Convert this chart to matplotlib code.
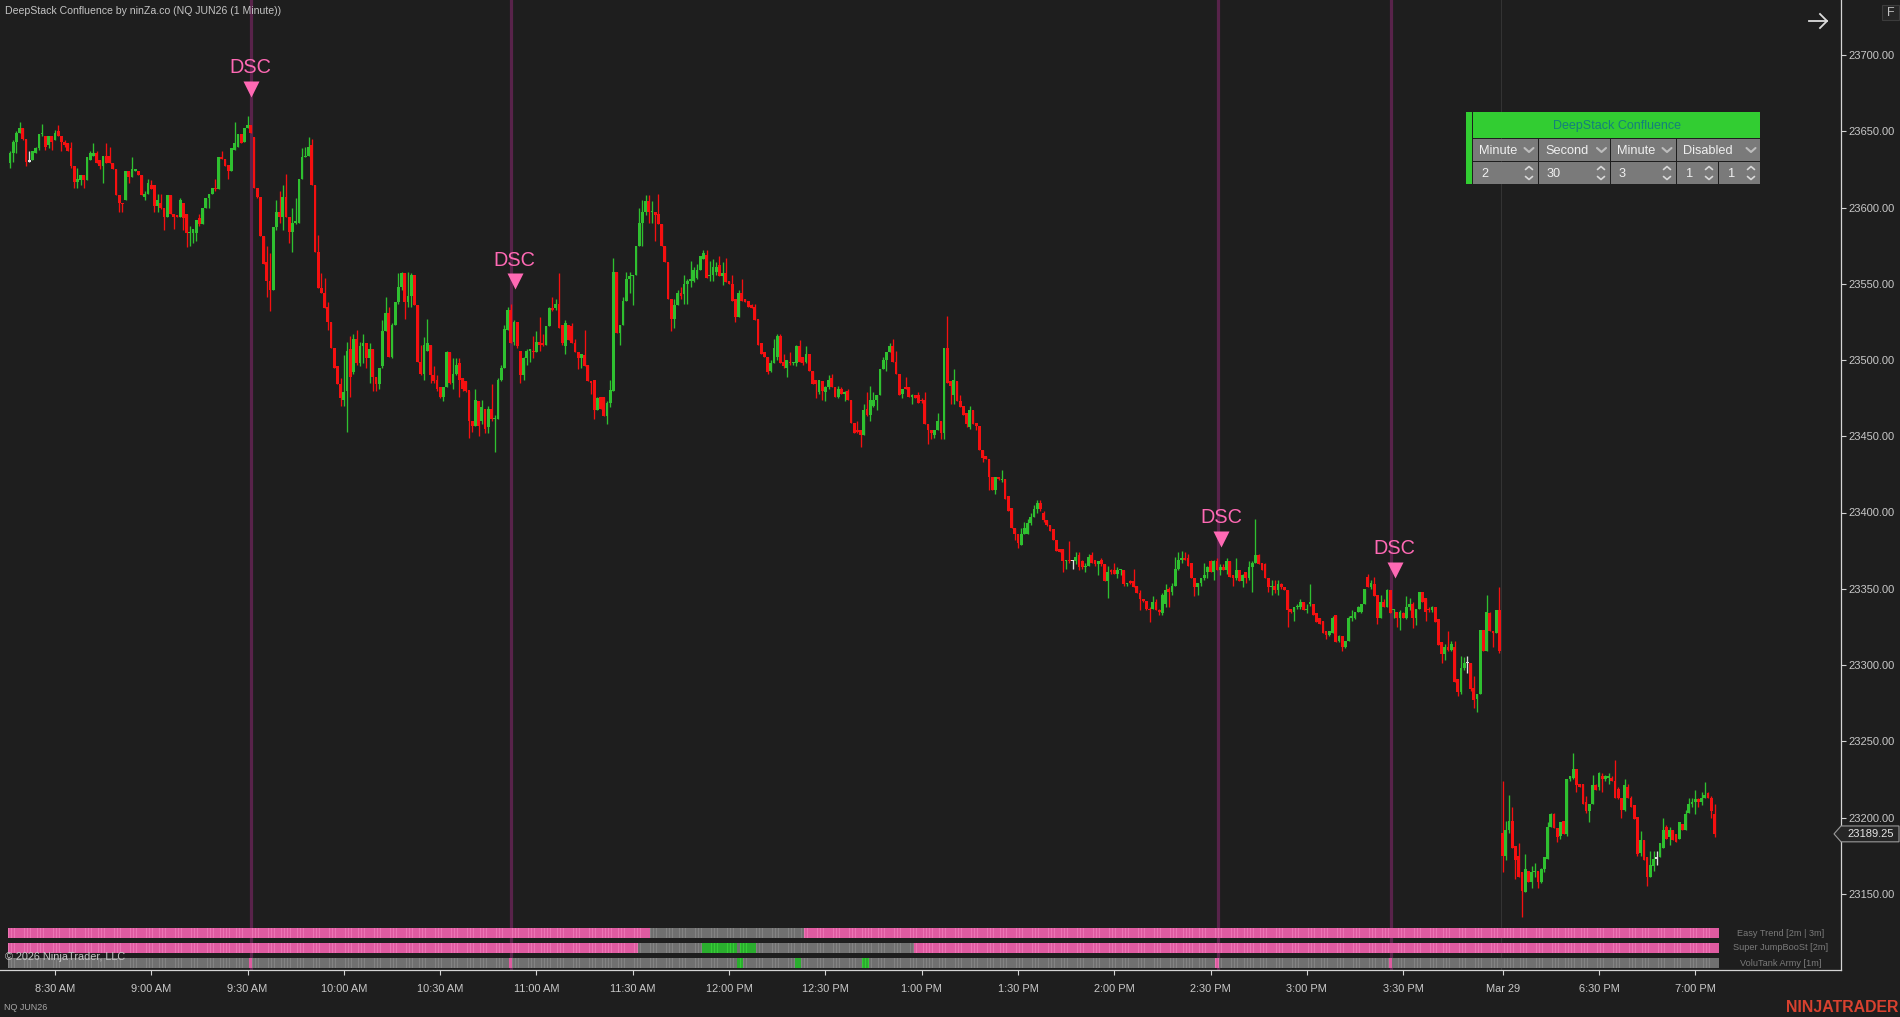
import numpy as np
import matplotlib
matplotlib.use("Agg")
import matplotlib.pyplot as plt
from matplotlib.patches import Polygon, Rectangle

plt.rcParams['font.family'] = ['Liberation Sans', 'DejaVu Sans']

BASE = 23000  # every bar value below is in points above this price

opens = [
629,636,643,649,652,645,630,631,636,639,648,647,641,647,644,650,647,643,642,639,
627,617,618,621,618,631,634,636,631,627,634,634,629,625,608,603,605,624,620,624,
624,621,607,609,615,615,601,603,600,594,608,596,595,594,603,596,583,583,583,593,
589,600,606,609,613,612,633,632,628,624,638,640,648,643,652,654,646,613,607,581,
564,552,546,587,597,594,607,594,584,590,590,619,633,634,641,615,571,547,544,535,
525,508,496,484,474,480,507,492,514,498,509,511,501,507,489,484,496,519,531,502,
523,538,548,557,538,542,556,536,499,491,506,510,490,487,482,476,482,505,485,491,
498,488,486,480,460,457,473,460,468,456,468,461,461,487,495,520,533,512,525,506,
490,501,506,506,505,512,511,510,522,534,534,537,523,509,523,522,511,505,501,503,
497,486,487,467,476,476,463,472,480,558,518,523,539,553,555,556,575,590,597,604,
597,597,596,589,575,564,540,527,536,544,543,550,552,552,554,559,566,569,555,556,
558,562,555,557,552,550,540,528,544,540,539,536,535,527,511,505,502,493,498,502,
516,499,495,499,498,498,509,502,499,504,493,487,479,486,479,482,488,482,476,481,
478,480,474,459,454,454,451,468,464,470,474,477,494,500,505,509,499,491,478,482,
482,476,477,477,474,474,458,454,451,454,460,452,508,486,477,486,473,470,465,456,
467,459,457,441,437,435,423,415,423,421,422,411,403,390,386,379,386,386,393,397,
402,406,400,395,392,389,382,376,376,368,369,368,368,372,368,364,365,372,369,366,
369,366,355,362,362,360,362,362,353,355,355,352,347,343,342,337,337,341,336,334,
340,350,348,352,363,369,370,370,367,357,351,354,357,361,368,361,368,362,364,362,
368,359,357,362,355,361,357,364,367,372,367,366,357,351,352,349,353,351,349,337,
335,338,338,341,336,340,340,334,331,329,322,320,321,333,316,319,312,316,331,331,
335,335,340,358,351,353,346,331,341,338,349,336,335,331,334,331,338,340,331,337,
348,344,337,336,338,330,315,307,312,310,312,291,282,298,301,301,285,278,281,323,
309,334,322,321,336,190,175,192,198,181,175,164,151,165,158,164,165,158,166,173,
194,202,193,188,198,189,225,226,232,222,222,210,204,209,221,220,227,225,226,226,
224,219,213,205,220,213,208,200,177,185,174,161,168,173,174,180,194,187,192,189,
186,196,192,203,209,210,212,210,213,216,213,202]

highs = [
637,644,650,656,652,645,637,637,640,648,655,647,647,647,651,654,647,644,642,643,
627,626,621,621,633,637,642,637,631,634,642,640,629,625,608,603,624,624,633,625,
624,621,611,619,618,615,609,609,600,608,608,596,595,606,603,596,588,586,592,596,
600,606,609,613,619,633,637,632,628,639,656,648,648,652,660,654,646,613,607,581,
575,570,587,605,611,615,622,594,600,606,619,639,640,646,645,615,582,557,554,538,
525,508,496,488,503,512,516,517,520,512,517,511,511,507,489,495,526,541,535,524,
538,557,558,557,558,557,556,536,510,515,527,510,496,490,482,482,506,505,501,501,
501,488,486,480,460,481,473,474,468,470,484,464,488,497,523,535,537,526,525,506,
502,507,507,516,519,528,517,522,535,541,540,557,523,526,523,524,514,505,504,520,
497,486,487,476,476,476,473,487,567,558,523,541,558,558,556,575,600,605,608,608,
604,597,609,589,575,564,540,540,546,548,556,553,565,561,563,568,572,572,565,566,
564,568,564,567,552,556,540,546,553,540,539,537,537,527,511,505,502,500,514,517,
517,504,500,505,499,510,513,502,509,504,493,487,487,486,483,490,491,482,483,482,
480,481,474,459,460,454,471,479,483,479,477,494,502,505,511,514,506,491,481,489,
482,478,477,479,475,479,458,454,454,465,460,508,529,486,494,486,477,470,465,470,
467,459,457,441,437,435,423,423,423,428,422,411,403,390,386,390,394,396,400,405,
408,408,401,395,392,389,382,376,376,369,381,369,374,374,369,367,373,374,369,368,
370,366,365,363,367,364,363,362,354,356,363,352,349,343,342,338,345,343,337,347,
353,351,354,371,374,375,374,373,367,357,354,357,367,365,369,369,370,366,366,370,
368,359,370,362,360,361,368,368,396,373,367,367,357,356,356,356,354,351,349,337,
338,340,343,341,340,353,340,334,331,329,322,322,332,333,320,319,316,332,336,335,
339,340,350,360,356,358,346,346,343,350,349,337,335,336,335,345,344,341,337,348,
348,344,338,339,338,330,315,314,322,316,316,291,306,305,306,301,293,281,323,323,
346,335,322,336,351,224,198,215,207,181,183,164,176,165,168,170,165,167,174,197,
203,203,193,197,198,225,227,242,232,222,222,214,209,228,222,230,229,228,229,227,
238,220,213,225,222,214,208,200,191,185,174,178,178,178,183,200,195,194,192,189,
197,196,205,213,213,218,213,217,223,217,214,209]

lows = [
626,630,636,649,644,627,630,631,636,638,647,638,639,638,644,647,637,640,637,626,
613,613,615,613,618,631,634,629,625,616,629,629,625,608,597,597,605,616,620,624,
621,608,605,609,612,597,597,599,585,594,596,586,594,594,585,574,575,577,578,588,
589,600,600,609,611,612,632,627,619,624,638,640,642,643,652,649,613,606,581,563,
541,532,546,585,590,585,594,577,571,589,590,619,633,634,615,571,547,544,534,520,
508,495,484,470,470,453,476,491,497,496,498,495,485,480,480,481,495,519,502,501,
523,537,546,527,535,535,536,499,490,487,506,485,485,480,475,473,482,484,481,490,
476,480,479,449,453,457,450,458,452,452,460,440,461,486,495,520,511,510,508,485,
487,497,499,501,505,506,509,510,522,532,533,521,510,504,513,511,505,494,495,496,
486,478,461,467,468,463,458,469,480,518,510,523,539,544,536,556,575,575,595,590,
590,578,589,575,564,540,519,521,536,540,537,537,548,551,553,559,566,554,552,552,
556,555,549,551,550,539,525,528,539,538,535,534,526,510,504,502,491,492,498,500,
498,495,489,497,497,496,499,497,498,493,484,475,478,474,473,481,482,476,475,478,
473,474,459,452,452,443,451,463,460,469,467,477,494,493,505,499,491,477,475,481,
476,471,475,472,472,458,445,448,449,454,448,448,485,471,471,473,469,464,456,455,
458,454,441,433,435,415,415,412,421,420,409,401,390,382,377,379,386,386,392,397,
400,401,394,391,388,382,375,374,361,363,367,363,366,362,363,361,365,367,365,359,
365,355,344,360,360,357,359,352,352,353,351,347,336,341,336,328,337,336,333,333,
338,338,346,352,362,367,369,365,357,345,346,352,356,357,361,356,362,359,362,360,
358,352,356,355,351,354,356,348,367,366,362,357,348,346,347,346,350,349,325,334,
329,337,337,336,334,339,333,328,327,321,317,319,321,315,315,309,311,316,329,330,
335,334,340,351,350,345,327,331,338,338,334,331,325,323,331,330,336,324,326,337,
341,329,335,335,328,313,301,303,309,309,289,280,281,297,295,283,272,269,281,309,
309,322,312,321,308,164,172,190,180,160,161,135,151,158,154,161,154,157,164,173,
194,193,184,186,189,188,224,225,217,220,209,203,197,209,218,218,217,224,222,224,
213,212,200,204,213,207,199,175,175,172,155,161,165,169,174,180,186,182,185,184,
186,192,192,203,207,202,207,208,213,213,200,187]

closes = [
636,643,649,652,645,630,631,637,639,648,648,640,647,643,649,647,643,641,637,627,
617,619,621,618,633,636,636,629,627,634,629,629,625,608,603,602,624,620,625,624,
621,608,609,616,612,601,605,600,594,608,596,594,594,605,593,583,583,586,592,589,
600,606,609,613,612,633,632,627,624,639,642,648,642,652,654,649,613,607,581,563,
552,546,587,597,594,607,594,584,590,590,619,633,634,640,615,571,547,544,534,525,
508,495,484,475,479,506,489,514,498,509,511,501,507,489,484,495,519,531,502,523,
538,548,557,538,542,556,536,499,491,510,511,490,486,481,476,482,505,485,491,497,
487,481,480,460,457,474,457,469,455,468,461,461,487,495,520,533,511,525,509,490,
501,506,506,505,512,510,510,522,534,533,537,521,511,524,513,511,505,501,504,496,
486,485,467,475,468,463,472,480,558,518,523,539,553,555,556,575,590,597,604,597,
597,595,589,575,564,540,527,536,544,542,550,552,552,559,559,568,570,554,556,561,
561,555,557,551,550,539,528,544,539,538,535,534,526,510,504,502,492,498,508,516,
498,496,500,498,498,509,499,498,504,493,484,484,487,480,482,487,482,476,481,478,
478,474,459,452,453,451,467,464,474,474,477,494,500,505,509,499,491,477,481,481,
476,477,475,472,473,458,454,452,454,460,452,508,485,483,487,473,469,464,458,467,
458,457,441,436,435,423,415,423,422,422,409,401,390,386,380,386,390,393,397,402,
406,402,395,392,388,382,375,374,368,369,368,368,371,364,364,365,371,367,366,368,
366,355,361,361,360,362,362,353,354,354,351,347,343,342,337,336,341,336,335,346,
349,348,352,363,369,369,369,365,357,351,354,357,359,364,361,368,362,364,362,368,
358,357,362,355,359,357,364,367,372,366,362,357,351,352,349,353,351,349,336,335,
338,339,341,336,337,340,333,328,327,321,320,322,331,315,319,312,316,331,331,335,
338,340,350,351,354,345,331,341,338,349,334,336,331,335,331,338,340,331,337,348,
341,335,336,338,328,313,307,312,310,314,289,282,298,301,301,284,277,281,323,309,
335,322,321,336,309,175,192,198,180,172,161,152,166,158,164,165,158,166,174,194,
202,193,187,197,189,225,227,232,221,220,209,204,209,221,218,229,225,227,226,224,
213,213,205,221,213,207,199,176,185,172,161,169,173,174,183,192,186,192,185,184,
197,192,202,209,209,212,210,213,215,213,204,189.25]

white_bars = [6, 331, 454, 513]

time_ticks = [14,44,74,104,134,164,194,224,254,284,314,344,374,404,434,465,495,525]
time_labels = ['8:30 AM','9:00 AM','9:30 AM','10:00 AM','10:30 AM','11:00 AM','11:30 AM',
               '12:00 PM','12:30 PM','1:00 PM','1:30 PM','2:00 PM','2:30 PM','3:00 PM',
               '3:30 PM','Mar 29','6:30 PM','7:00 PM']
price_ticks = [23150,23200,23250,23300,23350,23400,23450,23500,23550,23600,23650,23700]
last_price = 23189.25

signal_lines = [75, 156, 376.4, 430.3]
session_break = 465
dsc_x = [75, 157.2, 377.4, 431.4]
dsc_marker_price = [23677.4, 23551.8, 23382.6, 23362.3]
dsc_text_price = [23691.5, 23565.5, 23396.5, 23376.5]

# indicator rows: (state, first bar, last bar)
easy_trend_runs = [('p',0,199),('g',200,247),('p',248,532)]
super_jump_runs = [('p',0,195),('g',196,215),('u',216,226),('g',227,227),('u',228,232),
                   ('g',233,281),('p',282,532)]
volu_tank_runs = [('g',0,74),('p',75,75),('g',76,155),('p',156,156),('g',157,226),('u',227,228),
                  ('g',229,244),('u',245,246),('g',247,265),('u',266,267),('g',268,375),
                  ('p',376,376),('g',377,429),('p',430,430),('g',431,532)]
row_names = ['Easy Trend [2m | 3m]', 'Super JumpBooSt [2m]', 'VoluTank Army [1m]']

BG = '#1e1e1e'
UP = '#2fc030'
DOWN = '#f51010'
PINK = '#ff69b4'
W, H = 1900, 1017
AX_R, AX_B = 1841, 970

fig = plt.figure(figsize=(W/100, H/100), dpi=100, facecolor=BG)
ax = fig.add_axes([0, (H-AX_B)/H, AX_R/W, AX_B/H], facecolor=BG)

o = np.array(opens, float) + BASE
h = np.array(highs, float) + BASE
l = np.array(lows, float) + BASE
c = np.array(closes, float) + BASE
idx = np.arange(len(c))
cols = np.where(c >= o, UP, DOWN).astype(object)
for i in white_bars:
    cols[i] = '#e0e0e0'

for x in signal_lines:
    ax.axvline(x, color='#58234a', lw=2.3, zorder=1)
ax.axvline(session_break - 0.4, color='#343434', lw=0.7, zorder=1)

ax.vlines(idx, l, h, colors=list(cols), lw=0.95, zorder=3)
ax.bar(idx, np.maximum(np.abs(c-o), 1.0), bottom=np.minimum(o, c), width=0.86,
       color=list(cols), linewidth=0, zorder=3)

# indicator strips
row_spans = [(928, 938), (943, 953), (958, 968)]
shades = {'p': ('#ec74b4', '#df5ba1'), 'g': ('#838383', '#707070'), 'u': ('#35cc35', '#2aae2e')}
trans = ax.get_xaxis_transform()
for runs, (y0, y1) in zip([easy_trend_runs, super_jump_runs, volu_tank_runs], row_spans):
    yr = (1 - y1/AX_B, (y1-y0)/AX_B)
    for state, a, b in runs:
        light, dark = shades[state]
        ax.broken_barh([(a-0.5, b-a+1)], yr, facecolors=light, transform=trans, zorder=2, linewidth=0)
        ax.broken_barh([(i-0.42, 0.8) for i in range(a, b+1)], yr, facecolors=dark,
                       transform=trans, zorder=2, linewidth=0)

ax.plot(dsc_x, dsc_marker_price, linestyle='none', marker='v', ms=11.5, mfc=PINK, mec='none', zorder=5)
for x, p in zip(dsc_x, dsc_text_price):
    ax.text(x, p, 'DSC', color=PINK, fontsize=14.3, ha='center', va='center', zorder=5)

ax.set_xlim(-10/3.21, (AX_R-10)/3.21)
ax.set_ylim(23700-(AX_B-55)/1.525, 23700+55/1.525)
for s in ['top', 'left']:
    ax.spines[s].set_visible(False)
for s in ['right', 'bottom']:
    ax.spines[s].set_color('#d4d4d4')
    ax.spines[s].set_linewidth(0.9)
ax.yaxis.tick_right()
ax.set_yticks(price_ticks)
ax.set_yticklabels([f'{p:.2f}' for p in price_ticks])
ax.set_xticks(time_ticks)
ax.set_xticklabels(time_labels)
ax.tick_params(axis='y', length=3.6, width=0.8, color='#d4d4d4', labelcolor='#c8c8c8', labelsize=8, pad=2)
ax.tick_params(axis='x', length=3.6, width=0.8, color='#d4d4d4', labelcolor='#c8c8c8', labelsize=7.9, pad=6.5)

# last price tag
axf = lambda px: px/AX_R
tag = Polygon([(axf(1834), last_price), (axf(1841), last_price+5.2), (axf(1899), last_price+5.2),
               (axf(1899), last_price-5.2), (axf(1841), last_price-5.2)], closed=True,
              transform=ax.get_yaxis_transform(), facecolor='#262626', edgecolor='#9a9a9a',
              lw=0.8, clip_on=False, zorder=6)
ax.add_patch(tag)
ax.text(axf(1871), last_price, f'{last_price:.2f}', transform=ax.get_yaxis_transform(), color='#e6e6e6',
        fontsize=8, ha='center', va='center', zorder=7)

# overlay in pixel units for the platform's interface furniture
ui = fig.add_axes([0, 0, 1, 1], facecolor='none')
ui.set_xlim(0, W)
ui.set_ylim(H, 0)
ui.axis('off')

ui.text(5, 11, 'DeepStack Confluence by ninZa.co (NQ JUN26 (1 Minute))', color='#c4c4c4', fontsize=7.6, va='center')
ui.text(5, 957, '© 2026 NinjaTrader, LLC', color='#c6c6c6', fontsize=7.8, va='center')
ui.text(4, 1008, 'NQ JUN26', color='#a8a8a8', fontsize=6.4, va='center')
ui.text(1898, 1007, 'NINJATRADER', color='#d8412f', fontsize=11.4, fontweight='bold', ha='right', va='center')
for name, (y0, y1) in zip(row_names, row_spans):
    ui.text(1781, (y0+y1)/2, name, color='#7a7a7a', fontsize=6.6, ha='center', va='center')

def chevron(x, y, up=False, color='#d8d8d8', hw=3.5, hh=3, lw=1.2):
    s = -1 if up else 1
    ui.plot([x-hw, x, x+hw], [y-s*hh/2, y+s*hh/2, y-s*hh/2], color=color, lw=lw, solid_capstyle='round')

# arrow and F button
ui.plot([1809, 1827], [21, 21], color='#dcdcdc', lw=1.3)
ui.plot([1820, 1827, 1820], [14, 21, 28], color='#dcdcdc', lw=1.3)
ui.add_patch(Rectangle((1882, 5), 17, 15, facecolor='#262626', edgecolor='#3c3c3c', lw=0.8))
ui.text(1890.5, 12.5, 'F', color='#c0c0c0', fontsize=9, ha='center', va='center')

# settings panel
GREEN = '#32cd32'
GREY = '#7a7a7a'
ui.add_patch(Rectangle((1466, 112), 6, 72, facecolor=GREEN, lw=0))
ui.add_patch(Rectangle((1473, 112), 287, 26, facecolor=GREEN, lw=0))
ui.text(1617, 126, 'DeepStack Confluence', color='#14807c', fontsize=9, ha='center', va='center')
row2 = [(1473, 1538), (1539, 1610), (1611, 1676), (1677, 1760)]
row3 = [(1473, 1538), (1539, 1610), (1611, 1676), (1677, 1718), (1719, 1760)]
for a, b in row2:
    ui.add_patch(Rectangle((a, 139), b-a, 22, facecolor=GREY, lw=0))
for a, b in row3:
    ui.add_patch(Rectangle((a, 162), b-a, 22, facecolor=GREY, lw=0))
for x, t in zip([1479, 1545, 1617, 1683], ['Minute', 'Second', 'Minute', 'Disabled']):
    ui.text(x, 151, t, color='#f0f0f0', fontsize=9.2, va='center')
for x in [1529, 1601.5, 1667, 1751]:
    chevron(x, 150, hw=4.5, hh=4, color='#bdbdbd', lw=1.5)
for x, t in zip([1481, 1547, 1619, 1686, 1728], ['2', '30', '3', '1', '1']):
    ui.text(x, 174, t, color='#f0f0f0', fontsize=9.2, va='center')
for x in [1529, 1601, 1667, 1709, 1751]:
    chevron(x, 168, up=True)
    chevron(x, 178)

fig.savefig('out.png', dpi=100, facecolor=BG)
